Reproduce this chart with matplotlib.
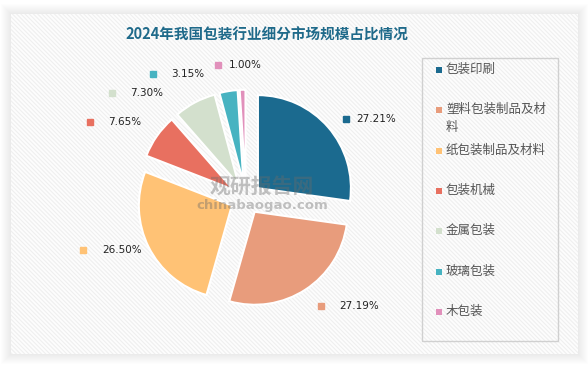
import matplotlib.pyplot as plt
import numpy as np
from matplotlib.patches import Rectangle
from matplotlib.collections import LineCollection

plt.rcParams['font.family'] = ['Noto Sans CJK SC', 'DejaVu Sans']

title = '2024年我国包装行业细分市场规模占比情况'
categories = ['包装印刷', '塑料包装制品及材料', '纸包装制品及材料', '包装机械', '金属包装', '玻璃包装', '木包装']
legend_labels = ['包装印刷', '塑料包装制品及材\n料', '纸包装制品及材料', '包装机械', '金属包装', '玻璃包装', '木包装']
shares = [27.21, 27.19, 26.50, 7.65, 7.30, 3.15, 1.00]
colors = ['#1b6a8f', '#e89c7c', '#ffc275', '#e87060', '#d3e0cd', '#47b3c1', '#e190bb']

# label text anchor (axes data units, pie radius = 1) and gap to the colour chip
label_xy = [(1.19, 0.86), (1.00, -1.16), (-1.55, -0.55), (-1.48, 0.82),
            (-1.25, 1.13), (-0.81, 1.34), (-0.19, 1.44)]
chip_gap = [0.11, 0.19, 0.20, 0.20, 0.19, 0.19, 0.11]

W, H = 588, 367
fig = plt.figure(figsize=(W / 100, H / 100), dpi=100)
fig.patch.set_facecolor('white')

# background panel with soft shadow and faint diagonal stripes
bg = fig.add_axes([0, 0, 1, 1])
bg.set_xlim(0, W)
bg.set_ylim(H, 0)
bg.axis('off')
px0, py0, px1, py1 = 11, 14, 578, 354
for k in range(10, 0, -1):
    bg.add_patch(Rectangle((px0 - k, py0 - k), px1 - px0 + 2 * k, py1 - py0 + 2 * k,
                           facecolor='#000000', alpha=0.006, edgecolor='none', zorder=0))
panel = Rectangle((px0, py0), px1 - px0, py1 - py0, facecolor='#fdfdfd', edgecolor='none', zorder=0.5)
bg.add_patch(panel)
segs = []
for s in np.arange(-H, W, 4.2):
    segs.append([(s, 0), (s + H, H)])
lc = LineCollection(segs, colors='#efefef', linewidths=0.8, zorder=0.8)
bg.add_collection(lc)
lc.set_clip_path(panel)

fig.text(267 / W, 1 - 35 / H, title, ha='center', va='center', fontsize=10.5,
         fontweight='bold', color='#1f6a8a')

# pie
R = 93.0
L = 1.6
cx, cy = 246, 198.5
side = 2 * L * R
ax = fig.add_axes([(cx - side / 2) / W, (H - cy - side / 2) / H, side / W, side / H])
ax.pie(shares, colors=colors, startangle=90, counterclock=False,
       explode=[0.17] * len(shares),
       wedgeprops=dict(edgecolor='white', linewidth=1.5))
ax.set_xlim(-L, L)
ax.set_ylim(-L, L)
ax.set_aspect('equal')
ax.axis('off')

for val, c, (tx, ty), g in zip(shares, colors, label_xy, chip_gap):
    ax.text(tx, ty, f'{val:.2f}%', ha='left', va='center', fontsize=7.5,
            color='#222222', family='DejaVu Sans', clip_on=False)
    ax.plot(tx - g, ty, marker='s', markersize=4, color=c, linestyle='none', clip_on=False)

# watermark (over the pie, semi-transparent)
fig.text(262 / W, 1 - 186 / H, '观研报告网', ha='center', va='center', fontsize=15,
         fontweight='bold', color='#6a6a6a', alpha=0.4, zorder=5)
fig.text(262 / W, 1 - 205 / H, 'chinabaogao.com', ha='center', va='center', fontsize=9.5,
         fontweight='bold', color='#6a6a6a', alpha=0.4, family='DejaVu Sans', zorder=5)

# legend
bg.add_patch(Rectangle((422, 58), 136, 283, facecolor='none', edgecolor='#d0d0d0',
                       linewidth=1, zorder=3))
for i, (lab, c) in enumerate(zip(legend_labels, colors)):
    y = 70 + 40.3 * i
    bg.add_patch(Rectangle((435.5, y - 3), 6, 6, facecolor=c, edgecolor='none', zorder=3))
    bg.text(446, y - 7, lab, ha='left', va='top', fontsize=9, color='#555555',
            linespacing=1.45, zorder=3)

fig.savefig('out.png', dpi=100)
